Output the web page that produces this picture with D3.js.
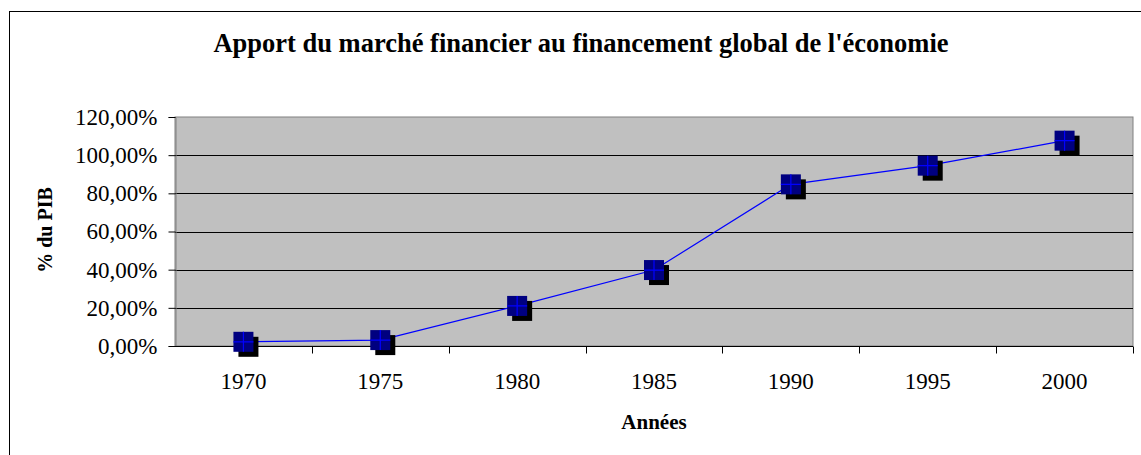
<!DOCTYPE html>
<html>
<head>
<meta charset="utf-8">
<script src="https://cdn.jsdelivr.net/npm/d3@7"></script>
<style>
  body { margin: 0; background: #fff; }
  text { font-family: "Liberation Serif", "Times New Roman", serif; }
</style>
</head>
<body>
<svg id="chart"></svg>
<script>
const width = 1141, height = 455;
const margin = { top: 117, right: 8, bottom: 109, left: 175 };

// data
const years = ["1970", "1975", "1980", "1985", "1990", "1995", "2000"];
const values = [0.022, 0.031, 0.21, 0.398, 0.847, 0.945, 1.076];
const yTicks = [0, 0.2, 0.4, 0.6, 0.8, 1.0, 1.2];

const svg = d3.select("#chart")
    .attr("width", width)
    .attr("height", height);

// outer chart frame (runs off the right and bottom edges)
svg.append("rect")
    .attr("x", 9.5).attr("y", 11.5)
    .attr("width", 1140).attr("height", 460)
    .attr("fill", "#fff")
    .attr("stroke", "#000")
    .attr("stroke-width", 1);

const xScale = d3.scaleBand()
    .domain(years)
    .range([margin.left, width - margin.right]);

const yScale = d3.scaleLinear()
    .domain([0, 1.2])
    .range([height - margin.bottom, margin.top]);

// plot area
svg.append("rect")
    .attr("x", margin.left)
    .attr("y", margin.top)
    .attr("width", width - margin.right - margin.left)
    .attr("height", height - margin.bottom - margin.top)
    .attr("fill", "#C0C0C0")
    .attr("stroke", "#808080")
    .attr("stroke-width", 1);

// gridlines
svg.append("g")
    .selectAll("line")
    .data(yTicks.filter(d => d > 0 && d < 1.2))
    .enter().append("line")
    .attr("x1", margin.left)
    .attr("x2", width - margin.right)
    .attr("y1", d => Math.round(yScale(d)) + 0.5)
    .attr("y2", d => Math.round(yScale(d)) + 0.5)
    .attr("stroke", "#000")
    .attr("stroke-width", 1);

// y axis
const fmt = d => d3.format(".2f")(d * 100).replace(".", ",") + "%";
const yAxis = svg.append("g")
    .attr("transform", `translate(${margin.left + 0.5}, 0)`)
    .call(d3.axisLeft(yScale).tickValues(yTicks).tickFormat(fmt).tickSize(7).tickPadding(11));
yAxis.select(".domain").attr("stroke", "#808080");
yAxis.selectAll("text")
    .style("font-family", "Liberation Serif")
    .style("font-size", "23px")
    .attr("fill", "#000");

// x axis with ticks between categories
const xAxis = svg.append("g")
    .attr("transform", `translate(0, ${height - margin.bottom + 0.5})`);
xAxis.append("line")
    .attr("x1", margin.left).attr("x2", width - margin.right)
    .attr("stroke", "#000");
xAxis.selectAll(".tk")
    .data(years.slice(1).concat(["end"]))
    .enter().append("line")
    .attr("class", "tk")
    .attr("x1", (d, i) => Math.round(xScale(years[0]) + xScale.bandwidth() * (i + 1)) + 0.5)
    .attr("x2", (d, i) => Math.round(xScale(years[0]) + xScale.bandwidth() * (i + 1)) + 0.5)
    .attr("y1", 0).attr("y2", 7)
    .attr("stroke", "#000");
xAxis.selectAll(".lbl")
    .data(years)
    .enter().append("text")
    .attr("class", "lbl")
    .attr("x", d => xScale(d) + xScale.bandwidth() / 2)
    .attr("y", 42)
    .attr("text-anchor", "middle")
    .style("font-size", "23px")
    .text(d => d);

// line
const pts = years.map((y, i) => [xScale(y) + xScale.bandwidth() / 2, yScale(values[i])]);
svg.append("path")
    .datum(pts)
    .attr("d", d3.line())
    .attr("fill", "none")
    .attr("stroke", "#0000FF")
    .attr("stroke-width", 1.2);

// markers: shadow, navy square, blue cross
const s = 20;
const mk = svg.append("g").selectAll("g")
    .data(pts)
    .enter().append("g")
    .attr("transform", d => `translate(${d[0]}, ${d[1]})`);
mk.append("rect")
    .attr("x", -s / 2 + 5).attr("y", -s / 2 + 5)
    .attr("width", s).attr("height", s)
    .attr("fill", "#000");
mk.append("rect")
    .attr("x", -s / 2).attr("y", -s / 2)
    .attr("width", s).attr("height", s)
    .attr("fill", "#000080");
mk.append("path")
    .attr("d", `M${-s / 2},0H${s / 2}M0,${-s / 2}V${s / 2}`)
    .attr("stroke", "#0000FF")
    .attr("stroke-width", 1.2);

// title
svg.append("text")
    .attr("x", 581)
    .attr("y", 52)
    .attr("text-anchor", "middle")
    .style("font-size", "26.5px")
    .style("font-weight", "bold")
    .text("Apport du marché financier au financement global de l'économie");

// y label
svg.append("text")
    .attr("transform", "translate(52, 230) rotate(-90)")
    .attr("text-anchor", "middle")
    .style("font-size", "20px")
    .style("font-weight", "bold")
    .text("% du PIB");

// x label
svg.append("text")
    .attr("x", 654)
    .attr("y", 429)
    .attr("text-anchor", "middle")
    .style("font-size", "21px")
    .style("font-weight", "bold")
    .text("Années");
</script>
</body>
</html>
